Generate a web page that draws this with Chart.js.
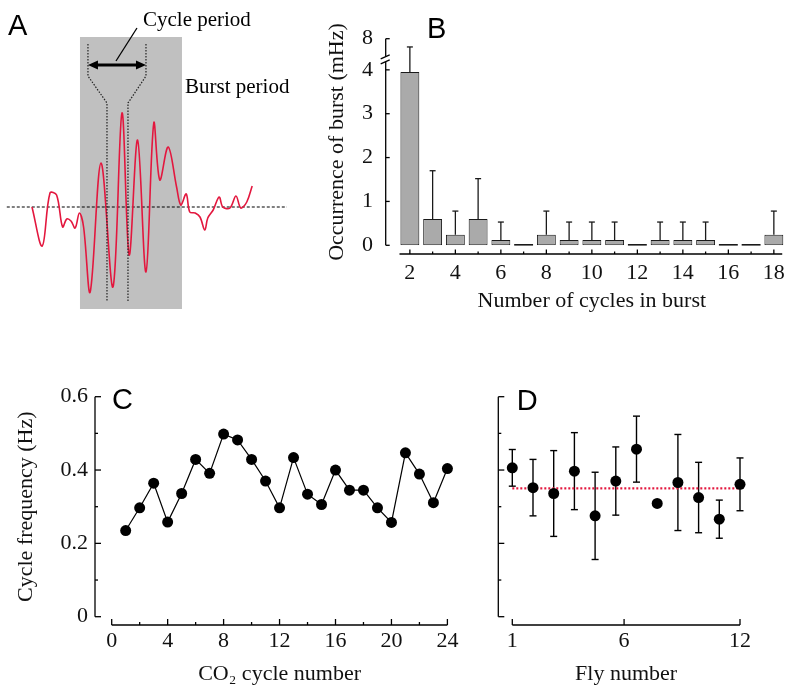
<!DOCTYPE html>
<html>
<head>
<meta charset="utf-8">
<script src="https://cdn.jsdelivr.net/npm/chart.js@4.4.0/dist/chart.umd.min.js"></script>
<style>
  html, body { margin: 0; padding: 0; background: #fff; overflow: hidden; }
  #fig { position: relative; width: 790px; height: 687px; }
  #fig canvas { position: absolute; }
</style>
</head>
<body>
<div id="fig">
  <canvas id="chartA" width="300" height="320" style="left:0;top:0"></canvas>
  <canvas id="chartB" width="480" height="320" style="left:320px;top:0"></canvas>
  <canvas id="chartC" width="470" height="357" style="left:0;top:330px"></canvas>
  <canvas id="chartD" width="310" height="357" style="left:480px;top:330px"></canvas>
</div>
<script>
// ---- A: example CO2 trace (time in s, amplitude in arbitrary units) ----
const traceTime  = [0.0, 1.7, 3.0, 4.1, 5.1, 5.8, 6.5, 7.2, 7.9, 8.6, 9.7, 11.5, 13.5, 15.0, 16.2, 17.6, 19.0, 20.3, 21.3, 22.7,
                    24.1, 24.8, 25.7, 26.3, 27.2, 28.0, 28.8, 29.3, 30.2, 31.2, 31.8, 33.0, 34.0, 34.8, 35.8, 36.7];
const traceValue = [0.0, -3.9, 1.4, 1.2, -2.0, -1.2, -1.4, -2.1, -0.6, -2.0, -8.5, 4.4, -8.0, 9.4, -4.8, 6.7, -6.5, 8.4, 2.7, 6.0,
                    2.0, 0.2, 1.3, -0.5, -0.6, -1.0, -2.3, -1.1, -0.3, 1.0, 0.0, -0.1, 1.1, -0.1, 0.5, 2.1];

// ---- B: occurrence of bursts vs number of cycles ----
const cyclesInBurst = ['2', '3', '4', '5', '6', '7', '8', '9', '10', '11', '12', '13', '14', '15', '16', '17', '18'];
const burstRate     = [3.95, 0.6, 0.24, 0.6, 0.12, 0, 0.24, 0.12, 0.12, 0.12, 0, 0.12, 0.12, 0.12, 0, 0, 0.24];
const burstRateSD   = [3.25, 1.1, 0.54, 0.92, 0.41, 0, 0.54, 0.41, 0.41, 0.41, 0, 0.41, 0.41, 0.41, 0, 0, 0.54];
const burstTicks    = [0, 1, 2, 3, 4, 8];

// ---- C: cycle frequency vs CO2 cycle number ----
const co2Cycle  = [1, 2, 3, 4, 5, 6, 7, 8, 9, 10, 11, 12, 13, 14, 15, 16, 17, 18, 19, 20, 21, 22, 23, 24];
const cycleFreq = [0.235, 0.297, 0.364, 0.258, 0.336, 0.429, 0.391, 0.498, 0.482, 0.429, 0.370, 0.297,
                   0.434, 0.334, 0.306, 0.400, 0.345, 0.345, 0.297, 0.257, 0.447, 0.389, 0.311, 0.404];

// ---- D: cycle frequency per fly (mean, sd) ----
const flyNumber   = [1, 2, 3, 4, 5, 6, 7, 8, 9, 10, 11, 12];
const flyFreq     = [0.406, 0.352, 0.336, 0.397, 0.275, 0.370, 0.457, 0.309, 0.366, 0.325, 0.266, 0.361];
const flyFreqSD   = [0.050, 0.077, 0.117, 0.105, 0.119, 0.093, 0.090, 0, 0.131, 0.096, 0.052, 0.072];
const flyMean     = 0.35;
const flyTickPos  = [1, 6.4, 12];
const flyTickText = ['1', '6', '12'];

const SERIF = "'Liberation Serif', 'Times New Roman', Times, serif";
const SANS = "'Liberation Sans', Arial, Helvetica, sans-serif";
const INK = '#111';
const tickFont = { family: SERIF, size: 22 };
const titleFont = { family: SERIF, size: 22 };

Chart.defaults.animation = false;
Chart.defaults.color = INK;

function seg(ctx, x1, y1, x2, y2) {
  ctx.beginPath();
  ctx.moveTo(x1, y1);
  ctx.lineTo(x2, y2);
  ctx.stroke();
}

function letter(ctx, txt, x, y) {
  ctx.save();
  ctx.font = '29px ' + SANS;
  ctx.fillStyle = '#000';
  ctx.textBaseline = 'middle';
  ctx.textAlign = 'left';
  ctx.fillText(txt, x, y);
  ctx.restore();
}

const hidden = { display: false };

// ===================== A =====================
const annotA = {
  id: 'annotA',
  beforeDatasetsDraw(chart) {
    const ctx = chart.ctx;
    const X = v => chart.scales.x.getPixelForValue(v);
    const Y = v => chart.scales.y.getPixelForValue(v);
    ctx.save();
    // burst period shading
    ctx.fillStyle = '#c0c0c0';
    ctx.fillRect(X(8.0), Y(17.0), X(25.0) - X(8.0), Y(-10.2) - Y(17.0));
    // baseline
    ctx.strokeStyle = '#000';
    ctx.lineWidth = 1.2;
    ctx.setLineDash([3, 2]);
    seg(ctx, X(-4.2), Y(0), X(42.5), Y(0));
    ctx.restore();
  },
  afterDatasetsDraw(chart) {
    const ctx = chart.ctx;
    const X = v => chart.scales.x.getPixelForValue(v);
    const Y = v => chart.scales.y.getPixelForValue(v);
    ctx.save();
    ctx.strokeStyle = '#222';
    ctx.lineWidth = 1.2;
    ctx.setLineDash([1.5, 1.5]);
    [[9.33, 12.5], [19.0, 16.0]].forEach(function(p) {
      ctx.beginPath();
      ctx.moveTo(X(p[0]), Y(16.3));
      ctx.lineTo(X(p[0]), Y(13.1));
      ctx.lineTo(X(p[1]), Y(10.4));
      ctx.lineTo(X(p[1]), Y(-9.5));
      ctx.stroke();
    });
    ctx.setLineDash([]);
    // double arrow
    const ay = Y(14.2), x1 = X(9.33), x2 = X(19.0);
    ctx.strokeStyle = '#000';
    ctx.fillStyle = '#000';
    ctx.lineWidth = 3;
    seg(ctx, x1 + 6, ay, x2 - 6, ay);
    ctx.beginPath();
    ctx.moveTo(x1, ay); ctx.lineTo(x1 + 10, ay - 4.5); ctx.lineTo(x1 + 10, ay + 4.5); ctx.closePath();
    ctx.moveTo(x2, ay); ctx.lineTo(x2 - 10, ay - 4.5); ctx.lineTo(x2 - 10, ay + 4.5); ctx.closePath();
    ctx.fill();
    // leader line
    ctx.lineWidth = 1.3;
    seg(ctx, X(14.0), Y(14.6), X(17.5), Y(17.9));
    // labels
    ctx.font = '21px ' + SERIF;
    ctx.textBaseline = 'middle';
    ctx.fillText('Cycle period', X(18.5), Y(18.7));
    ctx.fillText('Burst period', X(25.5), Y(12.0));
    ctx.restore();
    letter(ctx, 'A', 8, 27);
  }
};

new Chart(document.getElementById('chartA'), {
  type: 'line',
  data: {
    datasets: [{
      data: traceTime.map((t, i) => ({ x: t, y: traceValue[i] })),
      borderColor: '#e3173e',
      borderWidth: 1.6,
      pointRadius: 0,
      tension: 0.35,
      fill: false
    }]
  },
  options: {
    responsive: false,
    layout: { padding: 0 },
    plugins: { legend: hidden, tooltip: { enabled: false } },
    scales: {
      x: { type: 'linear', display: false, min: -5.33, max: 44.67 },
      y: { type: 'linear', display: false, min: -11.3, max: 20.7 }
    }
  },
  plugins: [annotA]
});

// ===================== B =====================
const B_BREAK = 4.24, B_UPPER_FROM = 6, B_UPPER_TO = 8, B_TOP = 4.71;
function toAxisB(v) {
  return v <= B_BREAK ? v : B_BREAK + (v - B_UPPER_FROM) / (B_UPPER_TO - B_UPPER_FROM) * (B_TOP - B_BREAK);
}

const decorB = {
  id: 'decorB',
  afterDatasetsDraw(chart) {
    const ctx = chart.ctx;
    const meta = chart.getDatasetMeta(0);
    const ys = chart.scales.y;
    ctx.save();
    ctx.strokeStyle = '#1a1a1a';
    ctx.lineWidth = 1.3;
    meta.data.forEach(function(bar, i) {
      const w = bar.width;
      if (burstRate[i] === 0) {
        ctx.lineWidth = 1.6;
        seg(ctx, bar.x - w / 2, bar.base - 0.5, bar.x + w / 2, bar.base - 0.5);
        ctx.lineWidth = 1.3;
        return;
      }
      const top = ys.getPixelForValue(toAxisB(burstRate[i] + burstRateSD[i]));
      seg(ctx, bar.x, bar.y, bar.x, top);
      seg(ctx, bar.x - 3, top, bar.x + 3, top);
    });
    ctx.restore();
  },
  afterDraw(chart) {
    const ctx = chart.ctx;
    const area = chart.chartArea;
    const xs = chart.scales.x, ys = chart.scales.y;
    ctx.save();
    ctx.strokeStyle = '#000';
    ctx.lineWidth = 1.3;
    // y axis with break
    const ax = area.left - 12.8;
    const yb = ys.getPixelForValue(B_BREAK);
    seg(ctx, ax, ys.getPixelForValue(0), ax, yb + 2.5);
    seg(ctx, ax, yb - 2.5, ax, ys.getPixelForValue(B_TOP));
    seg(ctx, ax - 5, yb + 4.5, ax + 4, yb + 0.5);
    seg(ctx, ax - 5, yb - 0.5, ax + 4, yb - 4.5);
    burstTicks.forEach(function(v) {
      const y = ys.getPixelForValue(toAxisB(v));
      seg(ctx, ax, y, ax + 4, y);
    });
    // x axis
    const ay = area.bottom + 8.7;
    seg(ctx, area.left + 1, ay, area.right - 3, ay);
    cyclesInBurst.forEach(function(c, i) {
      const x = xs.getPixelForValue(i);
      seg(ctx, x, ay, x, ay - (+c % 2 === 0 ? 4.5 : 2.5));
    });
    ctx.restore();
    letter(ctx, 'B', 107, 30);
  }
};

new Chart(document.getElementById('chartB'), {
  type: 'bar',
  data: {
    labels: cyclesInBurst,
    datasets: [{
      data: burstRate.map(toAxisB),
      backgroundColor: '#aaaaaa',
      borderColor: '#1a1a1a',
      borderWidth: 1,
      borderSkipped: false,
      barPercentage: 0.83,
      categoryPercentage: 1
    }]
  },
  options: {
    responsive: false,
    layout: { padding: { top: 25, right: 11.8, left: 0, bottom: 0 } },
    plugins: { legend: hidden, tooltip: { enabled: false } },
    scales: {
      x: {
        grid: { display: false, drawTicks: false },
        border: { display: false },
        ticks: {
          font: tickFont, padding: 14.8, autoSkip: false, maxRotation: 0,
          callback: function(v) { const l = this.getLabelForValue(v); return (+l % 2 === 0) ? l : ''; }
        },
        title: { display: true, text: 'Number of cycles in burst', font: titleFont, padding: { top: 0, bottom: 6 } },
        afterFit: function(s) { s.height = 74.7; }
      },
      y: {
        min: 0, max: B_TOP,
        grid: { display: false, drawTicks: false },
        border: { display: false },
        afterBuildTicks: function(s) { s.ticks = burstTicks.map(v => ({ value: toAxisB(v) })); },
        ticks: { font: tickFont, padding: 25.5, callback: (v, i) => String(burstTicks[i]) },
        title: { display: true, text: 'Occurrence of burst (mHz)', font: titleFont, padding: { top: 4.4, bottom: 0 } },
        afterFit: function(s) { s.width = 78.5; }
      }
    }
  },
  plugins: [decorB]
});

// ===================== C & D shared axis drawing =====================
function drawFreqAxes(chart, yAxisGap, xTicks, xMajor) {
  const ctx = chart.ctx;
  const area = chart.chartArea;
  const xs = chart.scales.x, ys = chart.scales.y;
  ctx.save();
  ctx.strokeStyle = '#000';
  ctx.lineWidth = 1.3;
  const ax = area.left - yAxisGap;
  seg(ctx, ax, ys.getPixelForValue(0), ax, ys.getPixelForValue(0.6));
  for (let k = 0; k <= 6; k++) {
    const y = ys.getPixelForValue(k / 10);
    seg(ctx, ax, y, ax + (k % 2 === 0 ? 6 : 3), y);
  }
  const ay = area.bottom + 8.3;
  seg(ctx, xs.getPixelForValue(xTicks[0]), ay, xs.getPixelForValue(xTicks[xTicks.length - 1]), ay);
  xTicks.forEach(function(v) {
    const x = xs.getPixelForValue(v);
    seg(ctx, x, ay, x, ay - (xMajor(v) ? 6 : 3));
  });
  ctx.restore();
}

// ===================== C =====================
const co2AxisTicks = [0, 2, 4, 6, 8, 10, 12, 14, 16, 18, 20, 22, 24];

new Chart(document.getElementById('chartC'), {
  type: 'line',
  data: {
    datasets: [{
      data: co2Cycle.map((c, i) => ({ x: c, y: cycleFreq[i] })),
      borderColor: '#000',
      borderWidth: 1.2,
      pointRadius: 5.5,
      pointBackgroundColor: '#000',
      pointBorderWidth: 0,
      tension: 0,
      clip: false
    }]
  },
  options: {
    responsive: false,
    layout: { padding: { top: 66.7, right: 18.3, left: 0, bottom: 0 } },
    plugins: { legend: hidden, tooltip: { enabled: false } },
    scales: {
      x: {
        type: 'linear', min: 0, max: 24,
        grid: { display: false, drawTicks: false },
        border: { display: false },
        ticks: { font: tickFont, padding: 11.6, stepSize: 4, maxRotation: 0 },
        title: { display: true, text: 'CO\u2082 cycle number', font: titleFont, padding: { top: 0, bottom: 0 } },
        afterFit: function(s) { s.height = 70.3; }
      },
      y: {
        min: 0, max: 0.6,
        grid: { display: false, drawTicks: false },
        border: { display: false },
        ticks: { font: tickFont, padding: 23.7, stepSize: 0.2, callback: v => (v === 0 ? '0' : v.toFixed(1)) },
        title: { display: true, text: 'Cycle frequency (Hz)', font: titleFont, padding: { top: 12.7, bottom: 0 } },
        afterFit: function(s) { s.width = 111.7; }
      }
    }
  },
  plugins: [{
    id: 'axesC',
    afterDraw(chart) {
      drawFreqAxes(chart, 16.7, co2AxisTicks, v => v % 4 === 0);
      letter(chart.ctx, 'C', 112, 71);
    }
  }]
});

// ===================== D =====================
new Chart(document.getElementById('chartD'), {
  type: 'line',
  data: {
    datasets: [{
      data: flyNumber.map((f, i) => ({ x: f, y: flyFreq[i] })),
      showLine: false,
      pointRadius: 5.5,
      pointBackgroundColor: '#000',
      pointBorderWidth: 0,
      clip: false,
      order: 0
    }, {
      data: [{ x: flyNumber[0], y: flyMean }, { x: flyNumber[flyNumber.length - 1], y: flyMean }],
      borderColor: '#e3173e',
      borderWidth: 2.2,
      borderDash: [2, 2],
      pointRadius: 0,
      clip: false,
      order: 1
    }]
  },
  options: {
    responsive: false,
    layout: { padding: { top: 66.7, right: 50, left: 0, bottom: 0 } },
    plugins: { legend: hidden, tooltip: { enabled: false } },
    scales: {
      x: {
        type: 'linear', min: 1, max: 12,
        grid: { display: false, drawTicks: false },
        border: { display: false },
        afterBuildTicks: function(s) { s.ticks = flyTickPos.map(v => ({ value: v })); },
        ticks: { font: tickFont, padding: 11.6, maxRotation: 0, callback: (v, i) => flyTickText[i] },
        title: { display: true, text: 'Fly number', font: titleFont, padding: { top: 0, bottom: 0 } },
        afterFit: function(s) { s.height = 70.3; }
      },
      y: {
        min: 0, max: 0.6,
        grid: { display: false, drawTicks: false },
        border: { display: false },
        ticks: { display: false },
        afterFit: function(s) { s.width = 32.3; }
      }
    }
  },
  plugins: [{
    id: 'axesD',
    beforeDatasetsDraw(chart) {
      const ctx = chart.ctx;
      const xs = chart.scales.x, ys = chart.scales.y;
      ctx.save();
      ctx.strokeStyle = '#000';
      ctx.lineWidth = 1.4;
      flyNumber.forEach(function(f, i) {
        if (!flyFreqSD[i]) return;
        const x = xs.getPixelForValue(f);
        const y1 = ys.getPixelForValue(flyFreq[i] + flyFreqSD[i]);
        const y2 = ys.getPixelForValue(flyFreq[i] - flyFreqSD[i]);
        seg(ctx, x, y1, x, y2);
        seg(ctx, x - 3.5, y1, x + 3.5, y1);
        seg(ctx, x - 3.5, y2, x + 3.5, y2);
      });
      ctx.restore();
    },
    afterDraw(chart) {
      drawFreqAxes(chart, 14, flyTickPos, () => true);
      letter(chart.ctx, 'D', 36.7, 72);
    }
  }]
});
</script>
</body>
</html>
